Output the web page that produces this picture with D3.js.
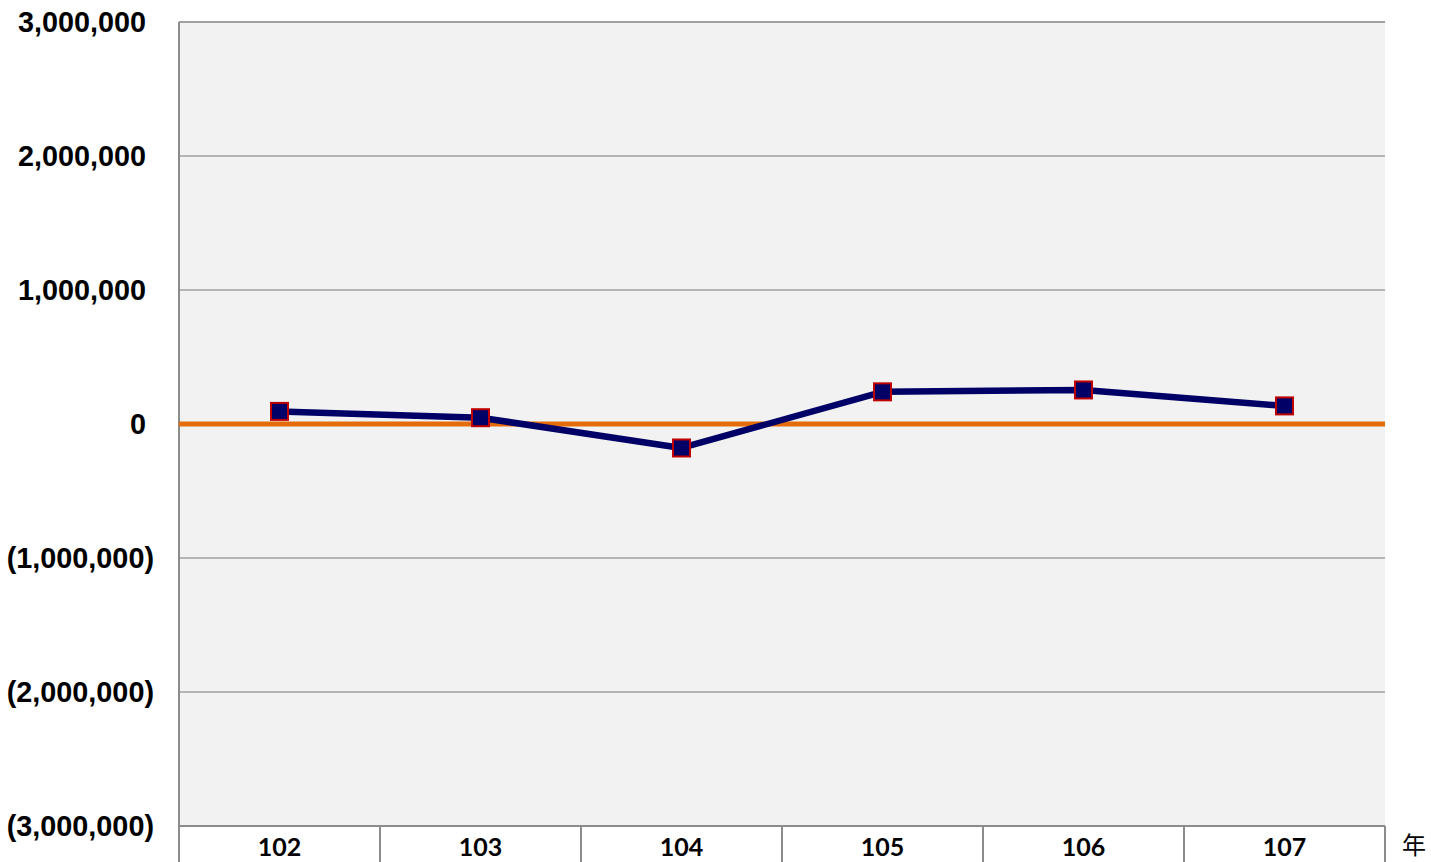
<!DOCTYPE html>
<html>
<head>
<meta charset="utf-8">
<script src="https://cdn.jsdelivr.net/npm/d3@7"></script>
<style>
html,body{margin:0;padding:0;background:#fff;}
svg{display:block;}
</style>
</head>
<body>
<svg id="chart" width="1431" height="862"></svg>
<script>
const categories = ["102", "103", "104", "105", "106", "107"];
const values = [94000, 47000, -179000, 240000, 254000, 135000];
const yTicks = [-3000000, -2000000, -1000000, 0, 1000000, 2000000, 3000000];
const xUnit = "年";

const W = 1431, H = 862;
const m = {left: 179, right: 1385, top: 22, bottom: 826};
const svg = d3.select("#chart");

const x = d3.scaleBand().domain(categories).range([m.left, m.right]).padding(0);
const y = d3.scaleLinear().domain([-3000000, 3000000]).range([m.bottom, m.top]);

const fmt = v => {
  const s = d3.format(",")(Math.abs(v));
  return v < 0 ? "(" + s + ")" : s;
};

// plot background
svg.append("rect")
  .attr("x", m.left).attr("y", m.top)
  .attr("width", m.right - m.left).attr("height", m.bottom - m.top)
  .attr("fill", "#f2f2f2");

// gridlines
svg.append("g").selectAll("line").data(yTicks.filter(d => d !== 0)).join("line")
  .attr("x1", m.left).attr("x2", m.right)
  .attr("y1", d => y(d)).attr("y2", d => y(d))
  .attr("stroke", "#a0a0a0").attr("stroke-width", d => d === 3000000 ? 2 : 1.5);

// y labels
svg.append("g").selectAll("text").data(yTicks).join("text")
  .attr("x", d => d < 0 ? 154 : 146)
  .attr("y", d => y(d) + 10)
  .attr("text-anchor", "end")
  .attr("font-family", "'Liberation Sans', Arial, sans-serif")
  .attr("font-weight", "bold")
  .attr("font-size", 28.8)
  .attr("fill", "#000")
  .text(fmt);

// category axis dividers
const bounds = categories.map(c => x(c)).concat([m.right]);
svg.append("g").selectAll("line").data(bounds).join("line")
  .attr("x1", d => d).attr("x2", d => d)
  .attr("y1", (d, i) => i === 0 ? m.top : m.bottom).attr("y2", H)
  .attr("stroke", "#8c8c8c").attr("stroke-width", 2);

// bottom axis line
svg.append("line")
  .attr("x1", m.left).attr("x2", m.right)
  .attr("y1", m.bottom).attr("y2", m.bottom)
  .attr("stroke", "#8c8c8c").attr("stroke-width", 2);

// category labels
svg.append("g").selectAll("text").data(categories).join("text")
  .attr("x", d => x(d) + x.bandwidth() / 2)
  .attr("y", 856)
  .attr("text-anchor", "middle")
  .attr("font-family", "Lato, 'Open Sans', sans-serif")
  .attr("font-weight", "bold")
  .attr("font-size", 25)
  .attr("fill", "#000")
  .text(d => d);

// unit label
svg.append("text")
  .attr("x", 1402).attr("y", 854)
  .attr("font-family", "'Noto Sans CJK TC', sans-serif")
  .attr("font-size", 24)
  .attr("fill", "#000")
  .text(xUnit);

// zero line
svg.append("line")
  .attr("x1", m.left).attr("x2", m.right)
  .attr("y1", y(0)).attr("y2", y(0))
  .attr("stroke", "#e46c0a").attr("stroke-width", 5);

// data line
const pts = categories.map((c, i) => [x(c) + x.bandwidth() / 2, y(values[i])]);
svg.append("path")
  .attr("d", d3.line()(pts))
  .attr("fill", "none")
  .attr("stroke", "#000066")
  .attr("stroke-width", 6.5)
  .attr("stroke-linejoin", "round");

// markers
svg.append("g").selectAll("rect").data(pts).join("rect")
  .attr("x", d => d[0] - 8.5).attr("y", d => d[1] - 8.5)
  .attr("width", 17).attr("height", 17)
  .attr("fill", "#000066")
  .attr("stroke", "#c00000").attr("stroke-width", 2);
</script>
</body>
</html>
